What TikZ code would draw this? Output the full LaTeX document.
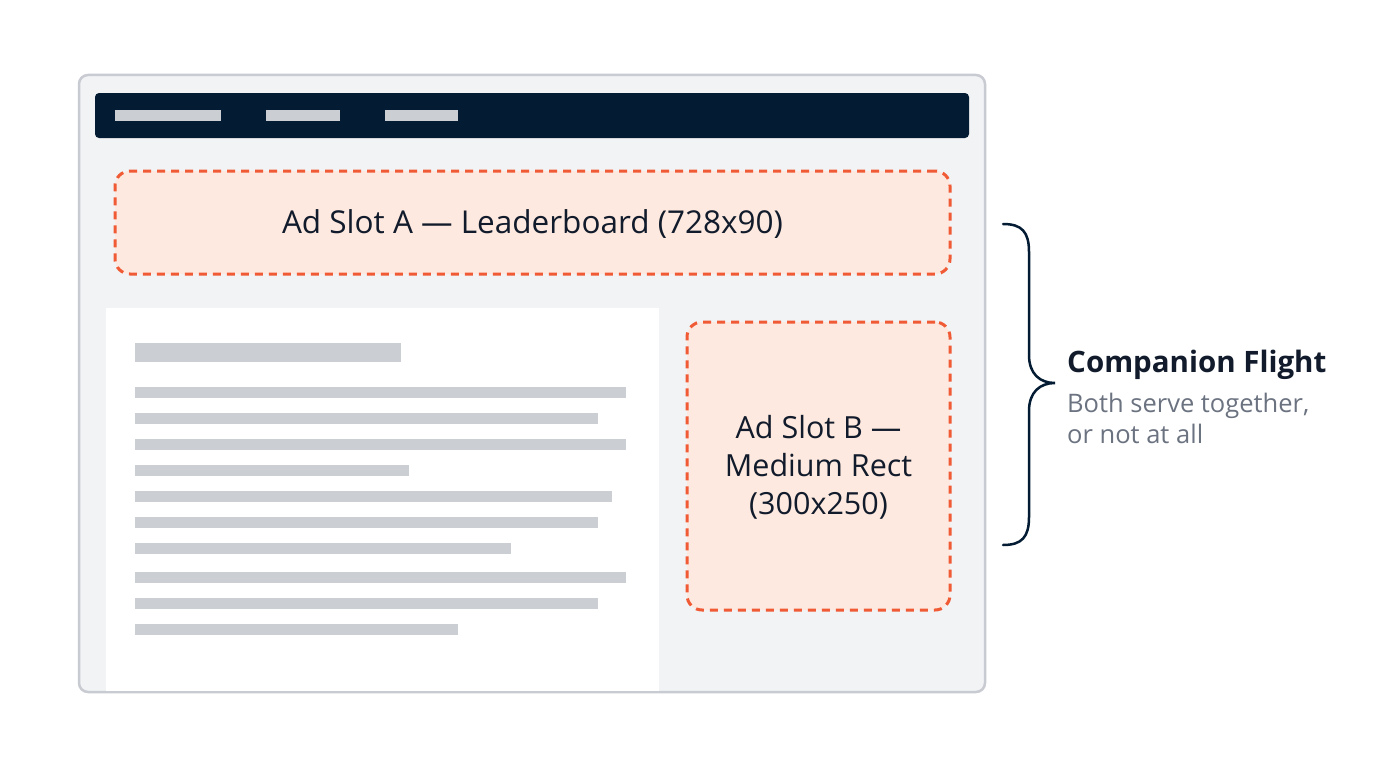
\documentclass[tikz,border=0pt]{standalone}
\usepackage{fontspec}
\setmainfont{Open Sans}
\usepackage{xcolor}
\usetikzlibrary{positioning,calc}

\definecolor{navy}{HTML}{031C33}
\definecolor{inktext}{HTML}{111B2B}
\definecolor{subtext}{HTML}{6B7280}
\definecolor{framegray}{HTML}{C8CBD1}
\definecolor{pagebg}{HTML}{F2F3F5}
\definecolor{barline}{HTML}{CBCFD4}
\definecolor{adfill}{HTML}{FDE9DF}
\definecolor{adline}{HTML}{F05A35}

\begin{document}
\begin{tikzpicture}[
    x=1pt, y=-1pt,
    window/.style={rectangle, rounded corners=9pt, draw=framegray, line width=2.5pt, fill=pagebg, inner sep=0pt},
    navbar/.style={rectangle, rounded corners=4pt, fill=navy, inner sep=0pt},
    navitem/.style={rectangle, fill=barline, minimum height=11pt, inner sep=0pt},
    adslot/.style={rectangle, rounded corners=15pt, draw=adline, fill=adfill, line width=3pt,
        dash pattern=on 8pt off 6pt, inner sep=0pt, align=center, text=inktext,
        font=\fontsize{30.5}{38}\selectfont},
    textline/.style={fill=barline}
]
    \useasboundingbox[fill=white] (0,0) rectangle (1376,768);

    % browser window
    \node[window, minimum width=906pt, minimum height=617pt] (win) at (532,383.5) {};
    \node[navbar, minimum width=874pt, minimum height=45pt] (nav) at (532,115.5) {};
    \node[navitem, minimum width=106pt] (nav1) at (168,115.5) {};
    \node[navitem, minimum width=74pt] (nav2) at (303,115.5) {};
    \node[navitem, minimum width=73pt] (nav3) at (421.5,115.5) {};

    % leaderboard slot
    \node[adslot, minimum width=835pt, minimum height=103pt] (slotA) at (532.5,222.5) {};
    \node[text=inktext, font=\fontsize{31.5}{38}\selectfont, yshift=-2pt] (slotAtext) at (slotA)
        {Ad Slot A — Leaderboard (728x90)};

    % article column
    \fill[white] (106,308) rectangle (659,690.5);
    \fill[textline] (135,343) rectangle (401,362);
    \foreach \yy/\xend in {392/626, 418/598, 444/626, 470/409, 496/612,
                           522/598, 548/511, 577/626, 603/598, 629/458} {
        \fill[textline] (135,\yy-5.5) rectangle (\xend,\yy+5.5);
    }

    % medium rectangle slot
    \node[adslot, minimum width=263pt, minimum height=288pt] (slotB) at (818.5,466) {};
    \node[text=inktext, align=center, font=\fontsize{30.5}{38}\selectfont, yshift=-1pt] (slotBtext) at (slotB)
        {Ad Slot B —\\Medium Rect\\(300x250)};

    % brace
    \coordinate (braceTop) at (1003,224);
    \coordinate (braceTip) at (1055,383);
    \coordinate (braceBot) at (1003,545);
    \draw[navy, line width=2.5pt, line cap=round]
        (braceTop) .. controls (1022,224) and (1029,232) .. (1029,252)
        -- (1029,355) .. controls (1029,374) and (1040,383) .. (braceTip)
        .. controls (1040,383) and (1029,392) .. (1029,411)
        -- (1029,517) .. controls (1029,537) and (1022,545) .. (braceBot);

    \node[anchor=west, text=inktext, font=\fontsize{29.5}{34}\selectfont\bfseries, inner sep=0pt]
        (flight) at (1067,365) {Companion Flight};
    \node[anchor=north west, text=subtext, align=left, inner sep=0pt,
        font=\fontsize{25.5}{31}\selectfont]
        (flightnote) at (1067,393) {Both serve together,\\or not at all};
\end{tikzpicture}
\end{document}
